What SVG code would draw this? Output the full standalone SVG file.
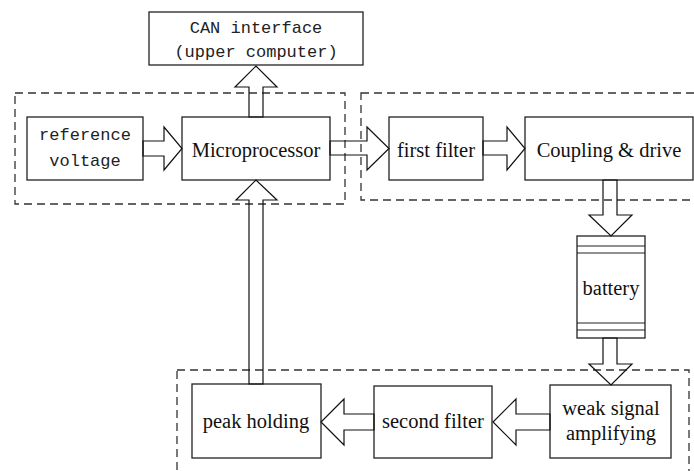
<svg xmlns="http://www.w3.org/2000/svg" width="694" height="471" viewBox="0 0 694 471">
<style>
.box{fill:#fff;stroke:#222;stroke-width:1.3}
.dash{fill:none;stroke:#333;stroke-width:1.3;stroke-dasharray:8,5}
.arr{fill:none;stroke:#111;stroke-width:1.2;stroke-linejoin:miter}
.ln{stroke:#222;stroke-width:1.2}
.serif{font-family:"Liberation Serif","Times New Roman",serif;font-size:20.5px;fill:#111;text-anchor:middle}
.mono{font-family:"Liberation Mono","Courier New",monospace;font-size:17px;fill:#222;text-anchor:middle}
</style>
<rect width="694" height="471" fill="#fff"/>
<g id="groups">
<rect class="dash" x="15" y="93" width="330" height="111"/>
<rect class="dash" x="361" y="93" width="345" height="107"/>
<rect class="dash" x="177" y="370" width="512" height="110"/>
</g>
<g id="can"><rect class="box" x="149" y="12" width="214" height="53"/>
<text class="mono" x="256" y="33">CAN interface</text>
<text class="mono" x="256" y="57">(upper computer)</text></g>
<g id="ref"><rect class="box" x="27" y="117" width="116" height="63"/>
<text class="mono" x="85" y="140">reference</text>
<text class="mono" x="85" y="166">voltage</text></g>
<g id="micro"><rect class="box" x="182" y="117" width="148" height="63"/>
<text class="serif" x="256" y="157">Microprocessor</text></g>
<g id="filter1"><rect class="box" x="389" y="117" width="94" height="63"/>
<text class="serif" x="436" y="157">first filter</text></g>
<g id="coupling"><rect class="box" x="525" y="117" width="168" height="63"/>
<text class="serif" x="609" y="157">Coupling &amp; drive</text></g>
<g id="battery"><rect class="box" x="577" y="236" width="68" height="102"/>
<line class="ln" x1="577" y1="246" x2="645" y2="246"/>
<line class="ln" x1="577" y1="253" x2="645" y2="253"/>
<line class="ln" x1="577" y1="323" x2="645" y2="323"/>
<line class="ln" x1="577" y1="330" x2="645" y2="330"/>
<text class="serif" x="611" y="295">battery</text></g>
<g id="weak"><rect class="box" x="550" y="385" width="121" height="73"/>
<text class="serif" x="611" y="415">weak signal</text>
<text class="serif" x="611" y="440">amplifying</text></g>
<g id="filter2"><rect class="box" x="374" y="386" width="118" height="72"/>
<text class="serif" x="433" y="428">second filter</text></g>
<g id="peak"><rect class="box" x="192" y="384" width="129" height="74"/>
<text class="serif" x="256" y="428">peak holding</text></g>
<g id="connectors">
<polygon class="arr" points="249,117 249,87 235,87 256,66 277,87 263,87 263,117"/>
<polygon class="arr" points="143,141 164,141 164,127 182,148.5 164,170 164,156 143,156"/>
<polygon class="arr" points="330,141 367,141 367,127 389,148.5 367,170 367,155 330,155"/>
<polygon class="arr" points="483,141 507,141 507,127 525,148.5 507,170 507,155 483,155"/>
<polygon class="arr" points="603,180 603,215 589,215 611,236 632,215 617,215 617,180"/>
<polygon class="arr" points="603,338 603,364 589,364 611,385 632,364 617,364 617,338"/>
<polygon class="arr" points="550,414 516,414 516,399 493,422 516,445 516,430 550,430"/>
<polygon class="arr" points="374,414 344,414 344,399 321,422 344,445 344,430 374,430"/>
<polygon class="arr" points="249,384 249,200 236,200 256,180 277,200 263,200 263,384"/>
</g>
</svg>
